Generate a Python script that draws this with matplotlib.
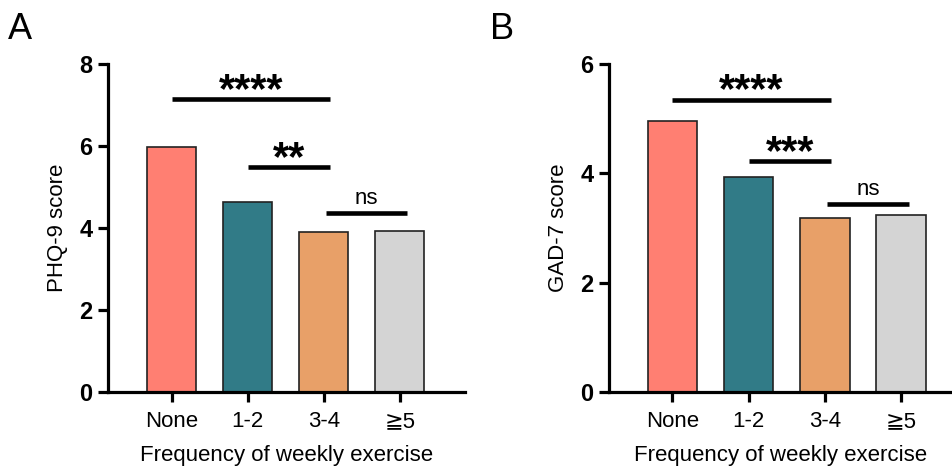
import numpy as np
import matplotlib
matplotlib.use("Agg")
import matplotlib.pyplot as plt

plt.rcParams['font.family'] = ['Liberation Sans', 'DejaVu Sans']

groups = ["None", "1-2", "3-4", "\u22675"]
colors = ["#FF7F72", "#317B87", "#E8A068", "#D4D4D4"]
phq9 = [5.98, 4.64, 3.90, 3.93]
gad7 = [4.96, 3.93, 3.18, 3.24]

# brackets: (start, end, height, label)
phq_sig = [(0, 2, 7.15, "****"), (1, 2, 5.49, "**"), (2, 3, 4.37, "ns")]
gad_sig = [(0, 2, 5.35, "****"), (1, 2, 4.22, "***"), (2, 3, 3.44, "ns")]

W, H = 953, 466
fig = plt.figure(figsize=(W / 100, H / 100), dpi=100)

def panel(rect, vals, sig, ymax, ylabel, letter, letter_x, xlim):
    ax = fig.add_axes(rect)
    x = np.arange(len(groups))
    ax.bar(x, vals, width=0.65, color=colors, edgecolor="#222222", linewidth=1.2, zorder=2)
    ax.set_xlim(*xlim)
    ax.set_ylim(0, ymax)
    ax.set_yticks(np.arange(0, ymax + 1, 2))
    ax.set_xticks(x)
    ax.set_xticklabels(groups, fontsize=16)
    for lab in ax.get_yticklabels():
        lab.set_fontweight("bold")
        lab.set_fontsize(17)
    for s in ["top", "right"]:
        ax.spines[s].set_visible(False)
    for s in ["left", "bottom"]:
        ax.spines[s].set_linewidth(2.3)
    ax.tick_params(axis="both", width=2.3, length=7, pad=4)
    ax.tick_params(axis="x", pad=7)
    ax.set_ylabel(ylabel, fontsize=16, labelpad=8)
    ax.set_xlabel("Frequency of weekly exercise", fontsize=16, labelpad=9)
    for a, b, h, t in sig:
        xa = a
        xb = b + 0.08
        if t == "ns":
            xa = a + 0.03
            xb = b + 0.1
        ax.plot([xa, xb], [h, h], color="black", lw=3.3, solid_capstyle="butt", zorder=3)
        if t == "ns":
            ax.annotate(t, ((xa + xb) / 2, h), xytext=(0, 6.5), textcoords="offset points",
                        ha="center", va="baseline", fontsize=16)
        else:
            ax.annotate(t, ((xa + xb) / 2, h), xytext=(0, -2), textcoords="offset points",
                        ha="center", va="baseline", fontsize=30, fontweight="bold")
    fig.text(letter_x, 1 - 39 / H, letter, fontsize=26, ha="left", va="baseline")
    return ax

panel([108 / W, 1 - 392 / H, (465 - 108) / W, (392 - 64) / H], phq9, phq_sig, 8,
      "PHQ-9 score", "A", 8 / W, (-0.84, 3.86))
panel([609 / W, 1 - 392 / H, (953 - 609) / W, (392 - 64) / H], gad7, gad_sig, 6,
      "GAD-7 score", "B", 490 / W, (-0.83, 3.68))

fig.savefig("out.png", dpi=100)
